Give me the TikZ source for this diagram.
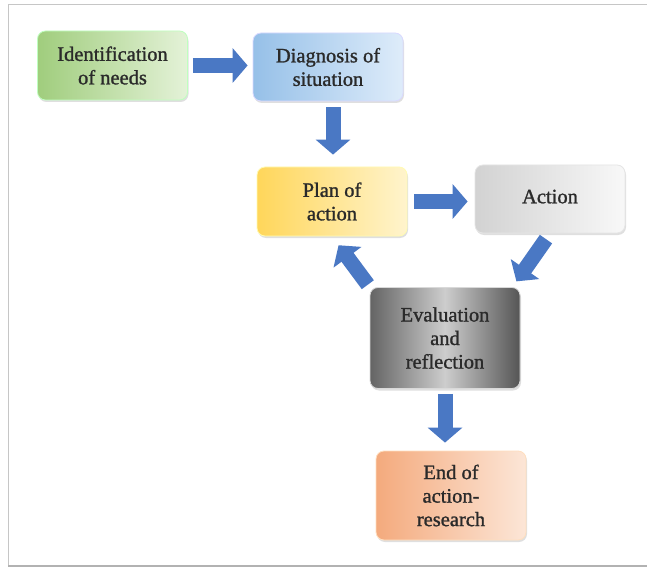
\documentclass[tikz,border=0pt]{standalone}
\usepackage{fontspec}
\setmainfont{Liberation Serif}[FakeBold=1.2]
\usetikzlibrary{arrows.meta,shadows}
\definecolor{arrowblue}{HTML}{4A78C4}
\definecolor{txt}{HTML}{2A2A2A}
\begin{document}
\begin{tikzpicture}[x=1pt,y=-1pt,
  box/.style={rounded corners=8pt, minimum width=150pt, align=center,
    font=\fontsize{20.5}{23.5}\selectfont, text=txt, line width=0.8pt,
    drop shadow={shadow xshift=1pt, shadow yshift=-2pt, opacity=0.25}},
  fat/.style={line width=15pt, arrowblue, -{Triangle[length=15pt 0, width=34pt 0]}}
]
\useasboundingbox (0,0) rectangle (647,569);
\fill[white] (0,0) rectangle (647,569);
% frame
\draw[gray!45, line width=1pt] (8,566) -- (8,5) -- (647,5);
\draw[gray!60, line width=1.6pt] (8,566) -- (647,566);

\node[box, minimum height=69pt, draw=green!25!white, shading=axis, shading angle=60,
  left color={rgb,255:red,160;green,205;blue,125}, right color={rgb,255:red,228;green,242;blue,216}]
  (id) at (112.5,65.5) {Identification\\of needs};
\node[box, minimum height=68pt, draw=blue!15!white, shading=axis, shading angle=60,
  left color={rgb,255:red,150;green,192;blue,232}, right color={rgb,255:red,222;green,236;blue,250}]
  (diag) at (328,67) {Diagnosis of\\situation};
\node[box, minimum height=69pt, draw=yellow!30!white, shading=axis, shading angle=60,
  left color={rgb,255:red,255;green,214;blue,90}, right color={rgb,255:red,255;green,244;blue,205}]
  (plan) at (332,201.5) {Plan of\\action};
\node[box, minimum height=68pt, draw=gray!20, shading=axis, shading angle=60,
  left color={rgb,255:red,210;green,210;blue,210}, right color={rgb,255:red,248;green,248;blue,248}]
  (act) at (550,199) {\raisebox{5pt}{Action}};
\node[box, minimum height=101pt, draw=gray!30, shading=axis, shading angle=50,
  left color={rgb,255:red,100;green,100;blue,100}, right color={rgb,255:red,85;green,85;blue,85},
  middle color={rgb,255:red,205;green,205;blue,205}]
  (eval) at (445,338) {Evaluation\\and\\reflection};
\node[box, minimum height=89pt, draw=orange!25!white, shading=axis, shading angle=60,
  left color={rgb,255:red,244;green,170;blue,125}, right color={rgb,255:red,252;green,230;blue,215}]
  (end) at (451,495.5) {End of\\action-\\research};

% block arrows
\draw[fat, shorten <=5pt, shorten >=5pt] (id.east) -- (id.east -| diag.west);
\draw[fat, shorten <=6pt, shorten >=12pt] ([xshift=5pt]diag.south) -- ([xshift=5pt]diag.south |- plan.north);
\draw[fat, shorten <=7pt, shorten >=7pt] (plan.east) -- (plan.east -| act.west);
\draw[fat, shorten <=7pt, shorten >=7pt] (act.south) -- ([xshift=-8pt]eval.north east);
\draw[fat, shorten <=3pt, shorten >=11pt] (eval.north west) -- (plan.south);
\draw[fat, shorten <=5pt, shorten >=8pt] (eval.south) -- (eval.south |- end.north);
\end{tikzpicture}
\end{document}
